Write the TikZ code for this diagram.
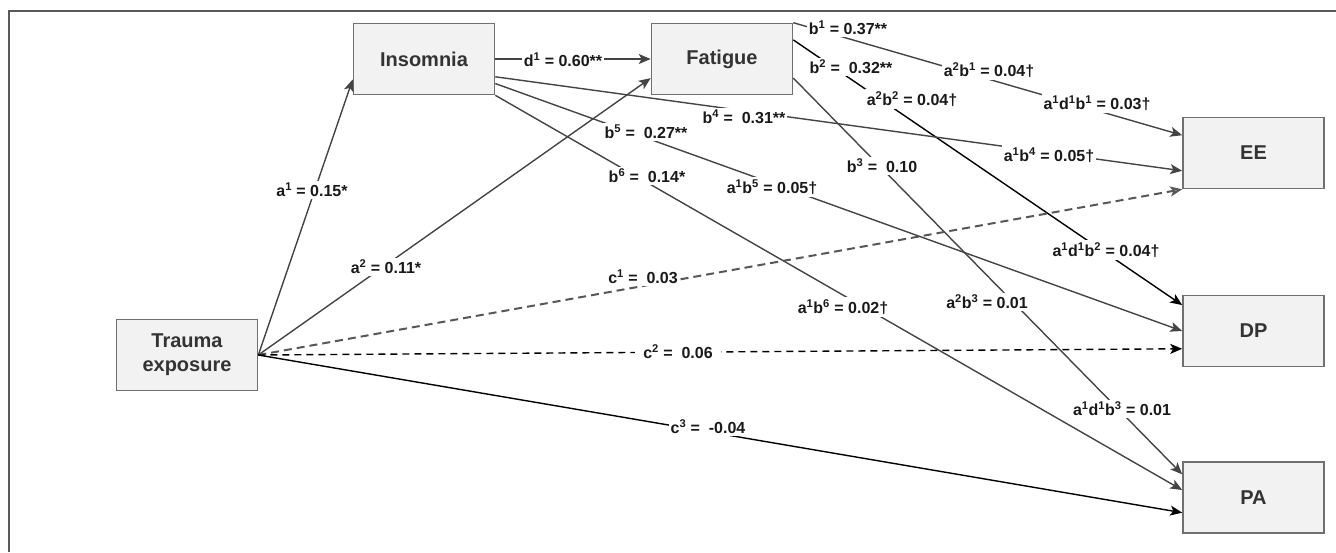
\documentclass[tikz,border=0pt]{standalone}
\usepackage{fontspec}
\setmainfont{Liberation Sans}
\usetikzlibrary{arrows.meta}

\definecolor{boxfill}{HTML}{F2F2F2}
\definecolor{boxedge}{HTML}{707070}
\definecolor{ink}{HTML}{333333}
\definecolor{wire}{HTML}{444444}

\newcommand{\labfont}{\fontsize{16}{19}\selectfont\bfseries}
\newcommand{\boxfont}{\fontsize{20}{24}\selectfont\bfseries}

\tikzset{
  var/.style={draw=boxedge, fill=boxfill, line width=1.6pt, minimum width=141pt,
    minimum height=71pt, inner sep=0pt, font=\boxfont, text=ink, align=center},
  coef/.style={fill=white, inner sep=2pt, font=\labfont, text=black!90},
  link/.style={draw=wire, line width=1.4pt, -{Stealth[length=12pt,width=10pt,inset=3pt]}},
  direct/.style={link, dash pattern=on 8pt off 5pt},
}

\begin{document}
\begin{tikzpicture}[x=1pt,y=-1pt]
\useasboundingbox (0,0) rectangle (1336,552);
\draw[boxedge!80!black, line width=1.5pt] (9,552) -- (9,11) -- (1336,11);

% variables
\node[var] (trauma) at (187,355) {Trauma\\exposure};
\node[var] (ins) at (424,59) {Insomnia};
\node[var] (fat) at (722,59) {Fatigue};
\node[var] (ee) at (1253.5,153) {EE};
\node[var] (dp) at (1253.5,331) {DP};
\node[var] (pa) at (1253.5,497.5) {PA};

% paths
\draw[link] (trauma.east) -- (ins.196.5);
\draw[link] (trauma.east) -- (fat.-165);
\draw[link] (ins.east) -- (fat.west);
\draw[link] (fat.north east) -- (ee.166);
\draw[link, draw=black] (fat.15) -- (dp.160);
\draw[link] (fat.-15) -- (pa.162.5);
\draw[link] (ins.-14) -- (ee.-166.6);
\draw[link] (ins.-19.4) -- (dp.west);
\draw[link] (ins.south east) -- (pa.174);
\draw[direct, line width=2pt, draw=wire!90, -{Stealth[open,length=12pt,width=10pt,inset=3pt]}] (trauma.east) -- (ee.south west);
\draw[direct, draw=black, dash pattern=on 7pt off 5pt] (trauma.east) -- (dp.-166);
\draw[link, draw=black] (trauma.east) -- (pa.-168.5);

% coefficients
\node[coef] (la1) at (312,190) {a\textsuperscript{1} = 0.15*};
\node[coef] (la2) at (386,267) {a\textsuperscript{2} = 0.11*};
\node[coef] (ld1) at (563,60) {d\textsuperscript{1} = 0.60**};
\node[coef] (lb1) at (848,28) {b\textsuperscript{1} = 0.37**};
\node[coef] (lb2) at (851,67) {b\textsuperscript{2} = ~0.32**};
\node[coef] (la2b1) at (989,70) {a\textsuperscript{2}b\textsuperscript{1} = 0.04†};
\node[coef] (la2b2) at (912,99) {a\textsuperscript{2}b\textsuperscript{2} = 0.04†};
\node[coef] (la1d1b1) at (1097,103) {a\textsuperscript{1}d\textsuperscript{1}b\textsuperscript{1} = 0.03†};
\node[coef] (lb4) at (744,117) {b\textsuperscript{4} = ~0.31**};
\node[coef] (la1b4) at (1049,155) {a\textsuperscript{1}b\textsuperscript{4} = 0.05†};
\node[coef] (lb5) at (646,132) {b\textsuperscript{5} = ~0.27**};
\node[coef] (lb6) at (647,176) {b\textsuperscript{6} = ~0.14*};
\node[coef] (lb3) at (882,166) {b\textsuperscript{3} = ~0.10};
\node[coef] (la1b5) at (772,187) {a\textsuperscript{1}b\textsuperscript{5} = 0.05†};
\node[coef] (la1b6) at (843,307) {a\textsuperscript{1}b\textsuperscript{6} = 0.02†};
\node[coef] (la2b3) at (987,302) {a\textsuperscript{2}b\textsuperscript{3} = 0.01};
\node[coef] (la1d1b2) at (1106,250) {a\textsuperscript{1}d\textsuperscript{1}b\textsuperscript{2} = 0.04†};
\node[coef] (la1d1b3) at (1122,409) {a\textsuperscript{1}d\textsuperscript{1}b\textsuperscript{3} = 0.01};
\node[coef] (lc1) at (643,277) {c\textsuperscript{1} = ~0.03};
\node[coef, inner xsep=8pt] (lc2) at (678,352) {c\textsuperscript{2} = ~0.06};
\node[coef] (lc3) at (708,427) {c\textsuperscript{3} = ~-0.04};
\end{tikzpicture}
\end{document}
